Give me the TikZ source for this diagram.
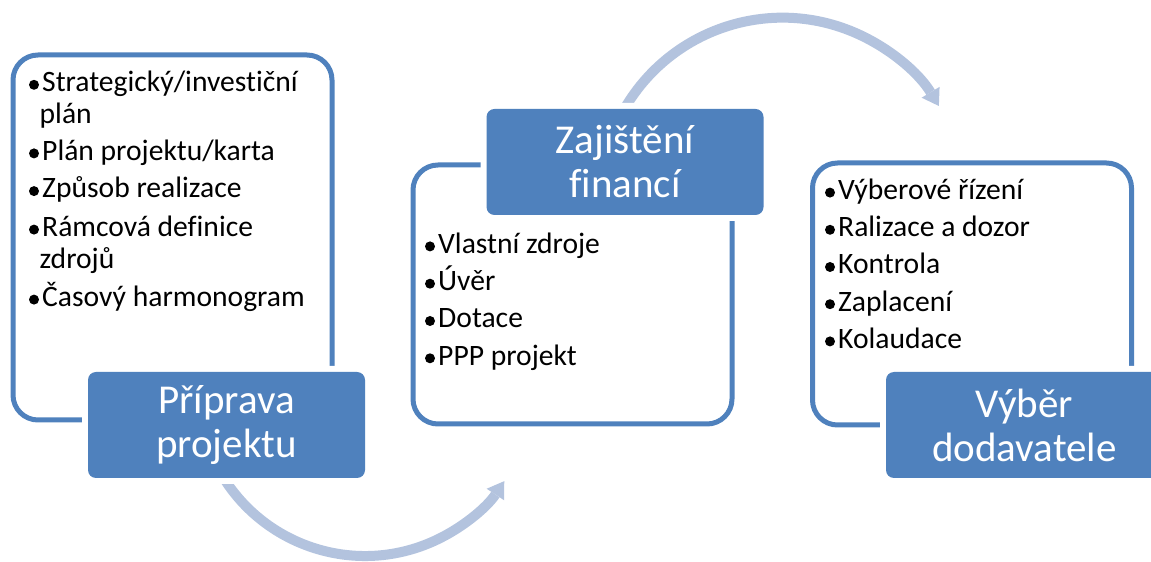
\documentclass[tikz,border=0pt]{standalone}
\usepackage{fontspec}
\setmainfont{Carlito}[Ligatures=NoCommon]
\usetikzlibrary{arrows.meta,calc}
\definecolor{accent}{RGB}{79,129,189}
\definecolor{flowcol}{RGB}{179,195,222}
\begin{document}
\begin{tikzpicture}[x=1pt,y=1pt,
  frame/.style={draw=accent, line width=5pt, rounded corners=25pt,
    minimum width=319pt, inner sep=0pt},
  tag/.style={fill=accent, rounded corners=8pt, text=white,
    font=\fontsize{41pt}{44pt}\selectfont, align=center,
    minimum width=277pt, minimum height=106pt, inner sep=0pt,
    preaction={draw=white, line width=12pt}},
  entry/.style={anchor=base west, inner sep=0pt,
    font=\fontsize{29.6pt}{31pt}\selectfont},
  flow/.style={draw=flowcol, line width=10pt,
    -{Triangle[width=21pt,length=16pt,line width=0pt]}}]
\useasboundingbox (0,0) rectangle (1151,562);
\clip (0,0) rectangle (1151,562);

% curved arrows between the stages
\coordinate (c1) at (365,173);
\coordinate (c2) at (782.5,361.7);
\draw[flow] ($(c1)+(205:167)$) arc[start angle=205, end angle=326.5, radius=167];
\draw[flow] ($(c2)+(157:182.6)$) arc[start angle=157, end angle=31.1, radius=182.6];

% outlined panels
\node[frame, minimum height=365pt] (f1) at (172.5,324.5) {};
\node[frame, minimum height=259pt] (f2) at (572.5,267.5) {};
\node[frame, minimum height=262pt] (f3) at (972,268) {};

% panel 1 items
\node[entry] (a1) at (42,470.3) {Strategický/investiční};
\node[entry] (a1b) at (39.5,438.7) {plán};
\node[entry] (a2) at (42,401.7) {Plán projektu/karta};
\node[entry] (a3) at (42,364) {Způsob realizace};
\node[entry] (a4) at (42,325.5) {Rámcová definice};
\node[entry] (a4b) at (39.5,293.9) {zdrojů};
\node[entry] (a5) at (42,255.5) {Časový harmonogram};

% panel 2 items
\node[entry] (b1) at (438,308.7) {Vlastní zdroje};
\node[entry] (b2) at (438,271.4) {Úvěr};
\node[entry] (b3) at (438,234.1) {Dotace};
\node[entry] (b4) at (438,196.8) {PPP projekt};

% panel 3 items
\node[entry] (d1) at (838,362.5) {Výberové řízení};
\node[entry] (d2) at (838,325.3) {Ralizace a dozor};
\node[entry] (d3) at (838,288.1) {Kontrola};
\node[entry] (d4) at (838,250.9) {Zaplacení};
\node[entry] (d5) at (838,213.7) {Kolaudace};

% round bullets in front of each item
\foreach \n in {a1,a2,a3,a4,a5,b1,b2,b3,b4,d1,d2,d3,d4,d5}
  \fill ([xshift=-8pt,yshift=6.9pt]\n.base west) circle[radius=5pt];

% stage titles
\node[tag] (p1) at (226.5,137) {Příprava\\projektu};
\node[tag] (p2) at (625,400) {Zajištění\\financí};
\node[tag] (p3) at (1024.5,137) {Výběr\\dodavatele};
\end{tikzpicture}
\end{document}
